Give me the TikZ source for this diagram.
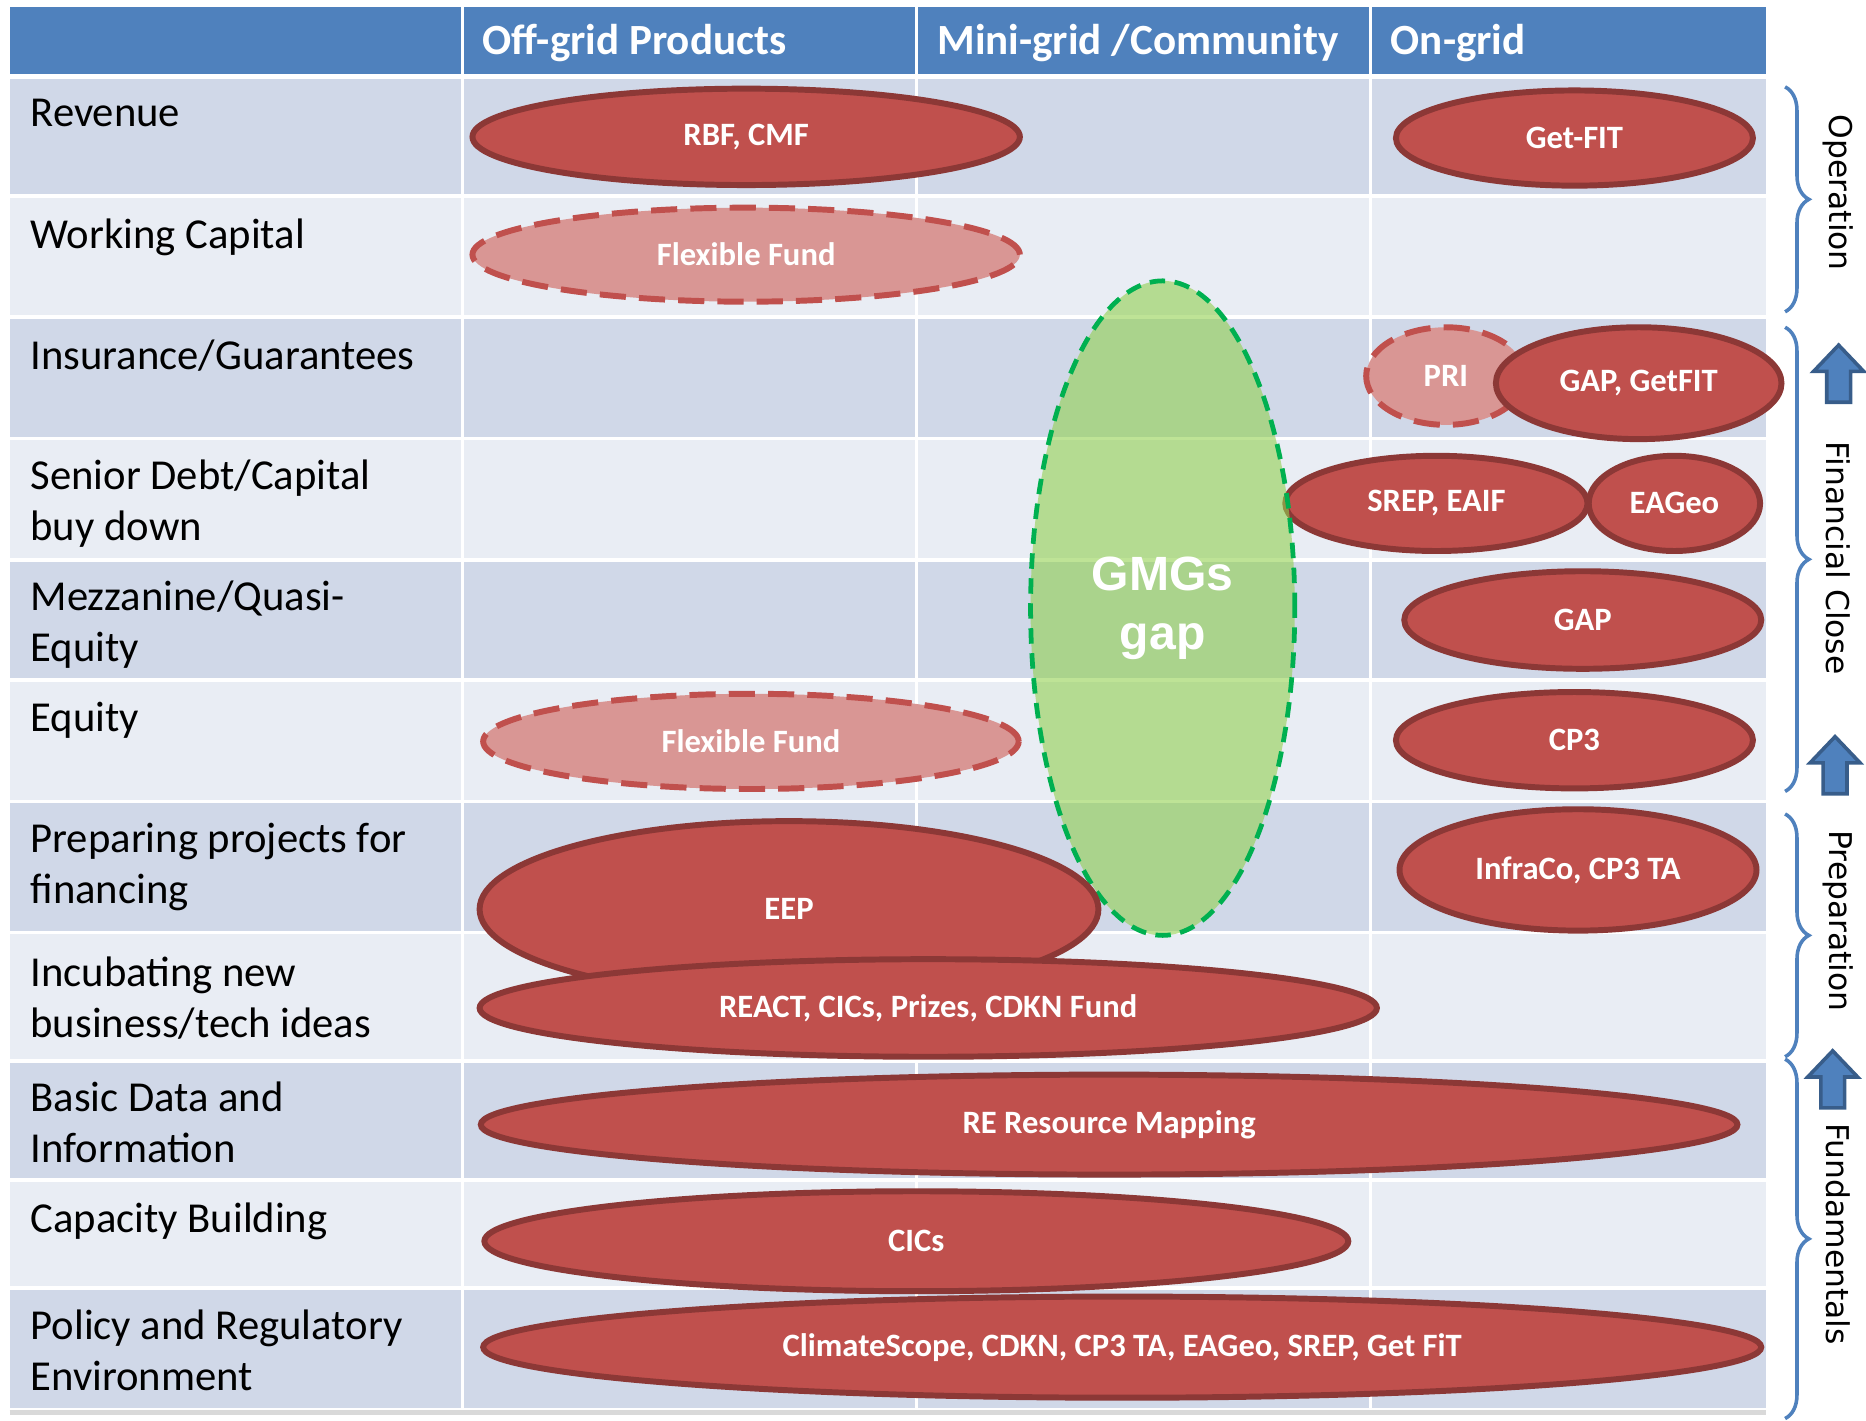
\documentclass[tikz,border=0pt]{standalone}
\usepackage{fontspec}
\setmainfont{Carlito}
\newfontfamily\stageFamily{DejaVu Sans}
\newfontfamily\gapFamily{Liberation Sans}
\usepackage{tikz}
\usetikzlibrary{shapes.geometric, decorations.pathreplacing}

\definecolor{HeadBlue}{HTML}{4F81BD}
\definecolor{RowDark}{HTML}{D0D8E8}
\definecolor{RowLight}{HTML}{E9EDF4}
\definecolor{FundRed}{HTML}{C0504D}
\definecolor{FundEdge}{HTML}{8C3836}
\definecolor{FundPale}{HTML}{D99694}
\definecolor{GapGreen}{HTML}{92D050}
\definecolor{GapEdge}{HTML}{00B050}
\definecolor{ArrowEdge}{HTML}{385D8A}

\tikzset{Fund/.style={%
    shape=ellipse,%
    draw=FundEdge,%
    fill=FundRed,%
    line width=0.5mm,%
    inner sep=0pt,%
    text=white,%
    font=\bfseries\fontsize{7.8}{9.4}\selectfont,%
}}
\tikzset{PlannedFund/.style={%
    Fund,%
    draw=FundRed,%
    fill=FundPale,%
    dash pattern=on 2.2mm off 1.1mm,%
}}
\tikzset{GapZone/.style={%
    shape=ellipse,%
    draw=GapEdge,%
    fill=GapGreen,%
    fill opacity=0.6,%
    text opacity=1,%
    line width=0.4mm,%
    dash pattern=on 1.3mm off 0.8mm,%
    inner sep=0pt,%
    align=center,%
    text=white,%
    font=\gapFamily\bfseries\fontsize{11.5}{14.2}\selectfont,%
}}
\tikzset{RowLabel/.style={%
    anchor=north west,%
    inner sep=0pt,%
    align=left,%
    font=\fontsize{10.2}{12.2}\selectfont,%
}}
\tikzset{HeadLabel/.style={%
    anchor=base west,%
    inner sep=0pt,%
    text=white,%
    font=\bfseries\fontsize{10.3}{12}\selectfont,%
}}
\tikzset{StageLabel/.style={%
    rotate=-90,%
    inner sep=0pt,%
    font=\stageFamily\fontsize{7.5}{9}\selectfont,%
}}
\tikzset{StageBrace/.style={%
    draw=HeadBlue,%
    line width=0.3mm,%
    decorate,%
    decoration={brace, amplitude=2mm},%
}}
\tikzset{StageArrow/.style={%
    fill=HeadBlue,%
    draw=ArrowEdge,%
    line width=0.3mm,%
}}
\newcommand{\stageArrow}[2]{%
    \filldraw[StageArrow] (#1,#2) -- (#1+21,#2+22) -- (#1+10,#2+22) -- (#1+10,#2+48)
        -- (#1-10,#2+48) -- (#1-10,#2+22) -- (#1-21,#2+22) -- cycle;%
}

\begin{document}
\begin{tikzpicture}[x=0.1mm, y=-0.1mm]
    \useasboundingbox (0,0) rectangle (1568,1194);

    % table
    \fill[HeadBlue] (8,6) rectangle (1484,62);
    \foreach \rtop/\rbot/\shade in {66/163/RowDark, 166/265/RowLight, 268/367/RowDark,
        370/469/RowLight, 472/570/RowDark, 573/672/RowLight, 675/782/RowDark,
        785/890/RowLight, 893/990/RowDark, 993/1081/RowLight, 1084/1183/RowDark}
        \fill[\shade] (8,\rtop) rectangle (1484,\rbot);
    \foreach \cx in {389,770,1152}
        \draw[white, line width=0.25mm] (\cx,6) -- (\cx,1183);
    \draw[black!15, line width=0.4mm] (8,1187) -- (1484,1187);

    \node[HeadLabel] (hOff) at (405,46) {Off-grid Products};
    \node[HeadLabel] (hMini) at (787,46) {Mini-grid /Community};
    \node[HeadLabel] (hOn) at (1168,46) {On-grid};

    \node[RowLabel] (lRevenue) at (25,83) {Revenue};
    \node[RowLabel] (lWorking) at (25,183) {Working Capital};
    \node[RowLabel] (lInsurance) at (25,285) {Insurance/Guarantees};
    \node[RowLabel] (lSenior) at (25,386) {Senior Debt/Capital\\buy down};
    \node[RowLabel] (lMezz) at (25,487) {Mezzanine/Quasi-\\Equity};
    \node[RowLabel] (lEquity) at (25,589) {Equity};
    \node[RowLabel] (lPrep) at (25,691) {Preparing projects for\\financing};
    \node[RowLabel] (lIncub) at (25,803) {Incubating new\\business/tech ideas};
    \node[RowLabel] (lBasic) at (25,908) {Basic Data and\\Information};
    \node[RowLabel] (lCap) at (25,1010) {Capacity Building};
    \node[RowLabel] (lPolicy) at (25,1100) {Policy and Regulatory\\Environment};

    % funds
    \node[Fund, minimum width=46mm, minimum height=8.1mm] (rbf) at (627,115) {RBF, CMF};
    \node[Fund, minimum width=30mm, minimum height=8mm] (getFit) at (1323,116) {Get-FIT};
    \node[PlannedFund, minimum width=46mm, minimum height=7.9mm] (flexWork) at (627,214) {Flexible Fund};
    \node[PlannedFund, minimum width=13.4mm, minimum height=8.2mm] (pri) at (1215,316) {PRI};
    \node[Fund, minimum width=24mm, minimum height=9.4mm] (gapGetFit) at (1377,322) {GAP, GetFIT};
    \node[Fund, minimum width=25.4mm, minimum height=8mm] (srep) at (1207,423) {SREP, EAIF};
    \node[Fund, minimum width=14.4mm, minimum height=8mm] (eaGeo) at (1407,423) {EAGeo};
    \node[Fund, minimum width=30mm, minimum height=8.2mm] (gapMezz) at (1330,521) {GAP};
    \node[PlannedFund, minimum width=45mm, minimum height=8mm] (flexEquity) at (631,623) {Flexible Fund};
    \node[Fund, minimum width=30mm, minimum height=8.1mm] (cp3) at (1323,622) {CP3};
    \node[Fund, minimum width=30mm, minimum height=10.2mm] (infraCo) at (1326,731) {InfraCo, CP3 TA};

    \node[GapZone, minimum width=22.2mm, minimum height=55mm] (gmg) at (977,511) {GMGs\\gap};

    \node[Fund, minimum width=52mm, minimum height=14.8mm] (eep) at (663,764) {EEP};
    \node[Fund, minimum width=75.4mm, minimum height=8.2mm] (react) at (780,847) {REACT, CICs, Prizes, CDKN Fund};
    \node[Fund, minimum width=105.6mm, minimum height=8.4mm] (reMap) at (932,945) {RE Resource Mapping};
    \node[Fund, minimum width=72.6mm, minimum height=8.4mm] (cics) at (770,1043) {CICs};
    \node[Fund, minimum width=107.4mm, minimum height=8.5mm] (policy) at (943,1132) {ClimateScope, CDKN, CP3 TA, EAGeo, SREP, Get FiT};

    % stages
    \draw[StageBrace] (1500,73) -- (1500,262);
    \draw[StageBrace] (1500,275) -- (1500,665);
    \draw[StageBrace] (1500,684) -- (1500,888);
    \draw[StageBrace] (1500,890) -- (1500,1192);

    \node[StageLabel] (sOperation) at (1545,162) {Operation};
    \node[StageLabel] (sFinancial) at (1545,469) {Financial Close};
    \node[StageLabel] (sPreparation) at (1545,774) {Preparation};
    \node[StageLabel] (sFundamentals) at (1545,1037) {Fundamentals};

    \stageArrow{1545}{290}
    \stageArrow{1542}{619}
    \stageArrow{1540}{883}
\end{tikzpicture}
\end{document}
